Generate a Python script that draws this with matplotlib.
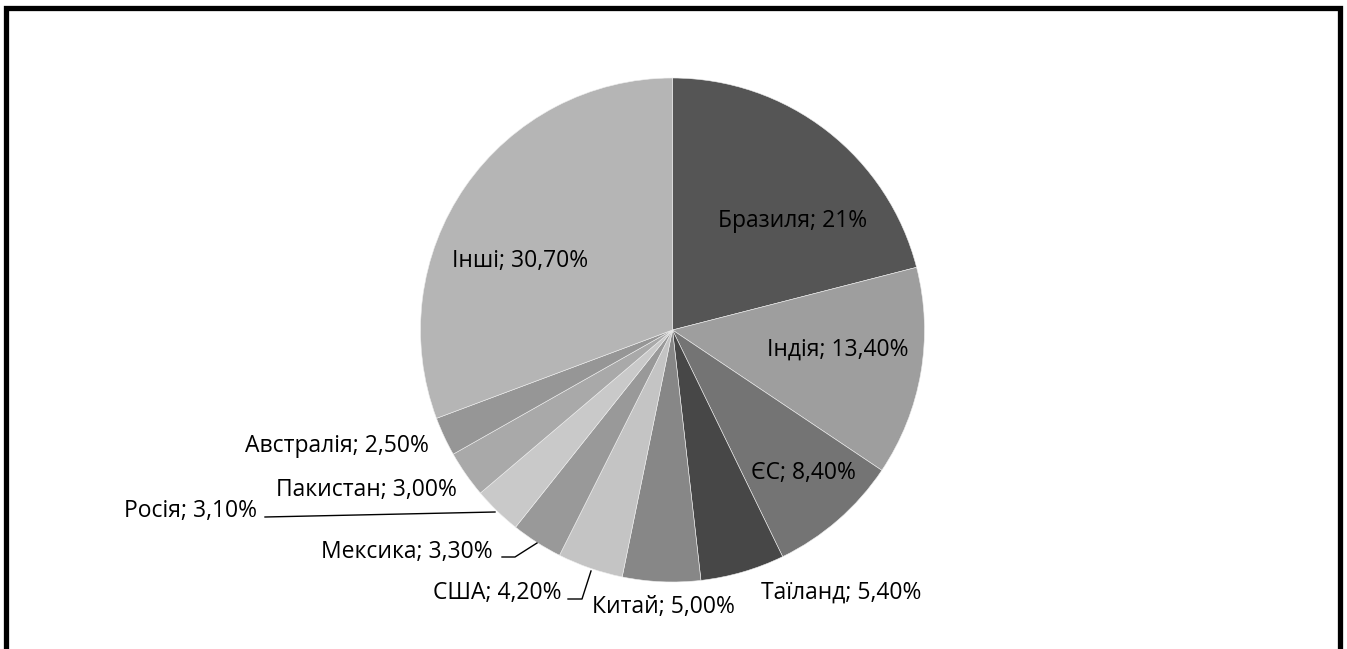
import matplotlib
matplotlib.use("Agg")
import matplotlib.pyplot as plt
from matplotlib.patches import Rectangle

categories = ["Бразиля", "Індія", "ЄС", "Таїланд", "Китай", "США", "Мексика",
              "Росія", "Пакистан", "Австралія", "Інші"]
values = [21.0, 13.4, 8.4, 5.4, 5.0, 4.2, 3.3, 3.1, 3.0, 2.5, 30.7]
value_labels = ["21%", "13,40%", "8,40%", "5,40%", "5,00%", "4,20%", "3,30%",
                "3,10%", "3,00%", "2,50%", "30,70%"]
colors = ["#555555", "#9e9e9e", "#747474", "#474747", "#878787", "#c4c4c4",
          "#999999", "#c9c9c9", "#a9a9a9", "#969696", "#b5b5b5"]

W, H = 1347, 649
CX, CY, R = 672.5, 330.0, 252.0

fig = plt.figure(figsize=(W / 100, H / 100), dpi=100)
ax = fig.add_axes([0, 0, 1, 1])

ax.pie(values, colors=colors, startangle=90, counterclock=False, radius=1,
       center=(0, 0), wedgeprops=dict(edgecolor="#eeeeee", linewidth=0.4),
       frame=True)
ax.set_xlim(-CX / R, (W - CX) / R)
ax.set_ylim(-(H - CY) / R, CY / R)
ax.set_aspect("auto")
ax.axis("off")

def px(x, y):
    return ((x - CX) / R, (CY - y) / R)

# label centres in pixels
label_pos = [(793, 221), (838, 350), (803, 473), (841, 593), (663, 607),
             (497, 593), (407, 552), (191, 511), (366, 490), (337, 446),
             (520, 261)]

font = ["Open Sans", "DejaVu Sans"]
for cat, vl, (x, y) in zip(categories, value_labels, label_pos):
    tx, ty = px(x, y)
    ax.text(tx, ty, f"{cat}; {vl}", ha="center", va="center", fontsize=16.5,
            family=font, color="black")

# leader lines (pixels)
leaders = [
    [(568, 599), (582, 599), (591, 571)],   # США
    [(502, 557), (515, 557), (537, 543)],   # Мексика
    [(265, 517), (495, 512)],               # Росія
]
for pts in leaders:
    xs, ys = zip(*[px(a, b) for a, b in pts])
    ax.plot(xs, ys, color="black", linewidth=1.0)

# outer frame
fig.patches.append(Rectangle((6.5 / W, -0.05), (1339.5 - 6.5) / W, 1.05 - 7.5 / H,
                             transform=fig.transFigure, fill=False,
                             edgecolor="black", linewidth=3.8))

fig.savefig("out.png", dpi=100)
